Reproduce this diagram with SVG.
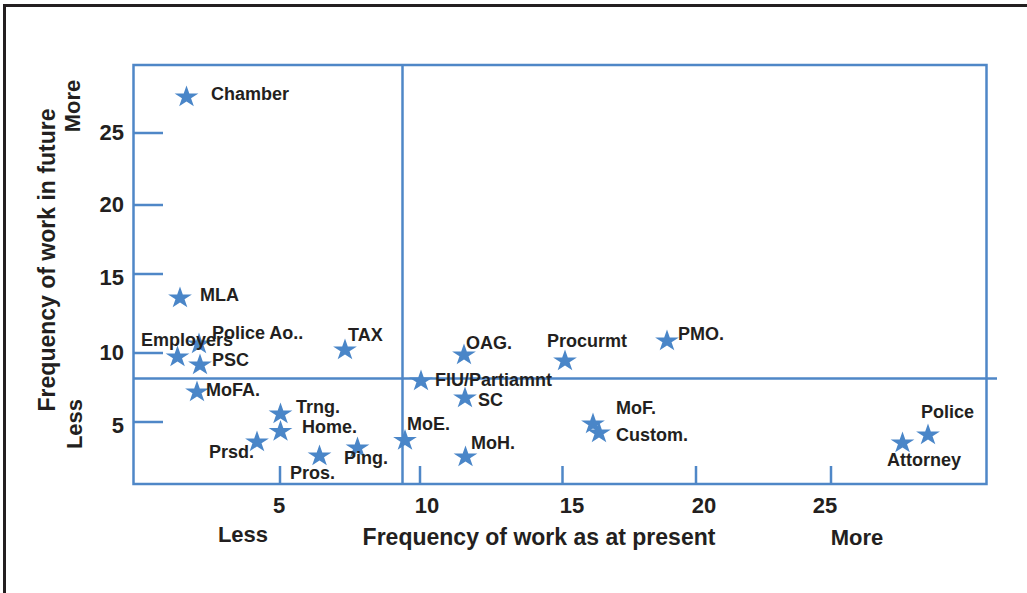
<svg xmlns="http://www.w3.org/2000/svg" xmlns:xlink="http://www.w3.org/1999/xlink" width="1027" height="593" viewBox="0 0 1027 593">
<style>
.ax{fill:none;stroke:#4f87c7;stroke-width:2.5}
.fr{fill:none;stroke:#231f20;stroke-width:3}
.lb{font-family:"Liberation Sans",Arial,sans-serif;font-weight:bold;font-size:18px;fill:#231f20}
.tk{font-family:"Liberation Sans",Arial,sans-serif;font-weight:bold;font-size:22px;fill:#231f20}
.tt{font-family:"Liberation Sans",Arial,sans-serif;font-weight:bold;font-size:23px;fill:#231f20}
.st{fill:#4a86c8}
</style>
<defs>
<path id="star" class="st" d="M0,-11.5 L2.81,-3.55 L11.89,-3.55 L4.54,1.36 L7.35,9.3 L0,4.39 L-7.35,9.3 L-4.54,1.36 L-11.89,-3.55 L-2.81,-3.55Z"/>
</defs>
<rect class="fr" x="4.5" y="5.5" width="1100" height="700"/>
<g id="axes">
<rect class="ax" x="133.5" y="65" width="853" height="419"/>
<line class="ax" x1="402.5" y1="65" x2="402.5" y2="484"/>
<line class="ax" x1="133.5" y1="378.5" x2="997" y2="378.5"/>
<line class="ax" x1="133.5" y1="133" x2="163" y2="133"/>
<line class="ax" x1="133.5" y1="205" x2="163" y2="205"/>
<line class="ax" x1="133.5" y1="274" x2="163" y2="274"/>
<line class="ax" x1="133.5" y1="353" x2="163" y2="353"/>
<line class="ax" x1="133.5" y1="422" x2="163" y2="422"/>
<line class="ax" x1="280" y1="466" x2="280" y2="484"/>
<line class="ax" x1="420" y1="466" x2="420" y2="484"/>
<line class="ax" x1="562.5" y1="466" x2="562.5" y2="484"/>
<line class="ax" x1="696" y1="466" x2="696" y2="484"/>
<line class="ax" x1="831" y1="466" x2="831" y2="484"/>
</g>
<g id="axis-labels">
<text class="tk" x="124" y="140" text-anchor="end">25</text>
<text class="tk" x="124" y="212" text-anchor="end">20</text>
<text class="tk" x="124" y="285" text-anchor="end">15</text>
<text class="tk" x="124" y="360" text-anchor="end">10</text>
<text class="tk" x="124" y="433" text-anchor="end">5</text>
<text class="tk" x="279" y="513" text-anchor="middle">5</text>
<text class="tk" x="427" y="513" text-anchor="middle">10</text>
<text class="tk" x="572" y="513" text-anchor="middle">15</text>
<text class="tk" x="704" y="513" text-anchor="middle">20</text>
<text class="tk" x="825" y="513" text-anchor="middle">25</text>
<text class="tt" x="539" y="545" text-anchor="middle">Frequency of work as at present</text>
<text class="tt" x="243" y="542" text-anchor="middle" style="font-size:22px">Less</text>
<text class="tt" x="857" y="545" text-anchor="middle" style="font-size:22px">More</text>
<text class="tt" transform="translate(55,260) rotate(-90)" text-anchor="middle">Frequency of work in future</text>
<text class="tt" transform="translate(80,106) rotate(-90)" text-anchor="middle" style="font-size:22px">More</text>
<text class="tt" transform="translate(82,424) rotate(-90)" text-anchor="middle" style="font-size:22px">Less</text>
</g>
<g id="chamber"><use xlink:href="#star" x="186.5" y="97"/><text class="lb" x="211" y="100">Chamber</text></g>
<g id="mla"><use xlink:href="#star" x="180" y="298"/><text class="lb" x="200" y="301">MLA</text></g>
<g id="police-ao"><use xlink:href="#star" x="199" y="344"/><text class="lb" x="212" y="339">Police Ao..</text></g>
<g id="employers"><use xlink:href="#star" x="177.5" y="357"/><text class="lb" x="141" y="346">Employers</text></g>
<g id="psc"><use xlink:href="#star" x="200" y="365"/><text class="lb" x="212" y="366">PSC</text></g>
<g id="mofa"><use xlink:href="#star" x="197" y="392"/><text class="lb" x="206" y="396">MoFA.</text></g>
<g id="trng"><use xlink:href="#star" x="280.5" y="414"/><text class="lb" x="296" y="413">Trng.</text></g>
<g id="home"><use xlink:href="#star" x="280.5" y="431.5"/><text class="lb" x="302" y="433">Home.</text></g>
<g id="prsd"><use xlink:href="#star" x="257" y="442"/><text class="lb" x="209" y="458">Prsd.</text></g>
<g id="pros"><use xlink:href="#star" x="319.5" y="456"/><text class="lb" x="290" y="479">Pros.</text></g>
<g id="ping"><use xlink:href="#star" x="357.5" y="448"/><text class="lb" x="344" y="464">Ping.</text></g>
<g id="moe"><use xlink:href="#star" x="405" y="440.5"/><text class="lb" x="407" y="430">MoE.</text></g>
<g id="tax"><use xlink:href="#star" x="345" y="350"/><text class="lb" x="348" y="341">TAX</text></g>
<g id="oag"><use xlink:href="#star" x="464" y="355"/><text class="lb" x="466" y="349">OAG.</text></g>
<g id="procurmt"><use xlink:href="#star" x="565" y="361"/><text class="lb" x="547" y="347">Procurmt</text></g>
<g id="fiu"><use xlink:href="#star" x="421" y="381"/><text class="lb" x="435" y="386">FIU/Partiamnt</text></g>
<g id="sc"><use xlink:href="#star" x="465" y="398"/><text class="lb" x="478" y="406">SC</text></g>
<g id="moh"><use xlink:href="#star" x="465.5" y="457"/><text class="lb" x="471" y="449">MoH.</text></g>
<g id="mof"><use xlink:href="#star" x="593" y="424"/><text class="lb" x="616" y="414">MoF.</text></g>
<g id="custom"><use xlink:href="#star" x="599" y="433"/><text class="lb" x="616" y="441">Custom.</text></g>
<g id="pmo"><use xlink:href="#star" x="667" y="341"/><text class="lb" x="678" y="340">PMO.</text></g>
<g id="police"><use xlink:href="#star" x="928" y="435"/><text class="lb" x="921" y="418">Police</text></g>
<g id="attorney"><use xlink:href="#star" x="902.5" y="443"/><text class="lb" x="887" y="466">Attorney</text></g>
</svg>
